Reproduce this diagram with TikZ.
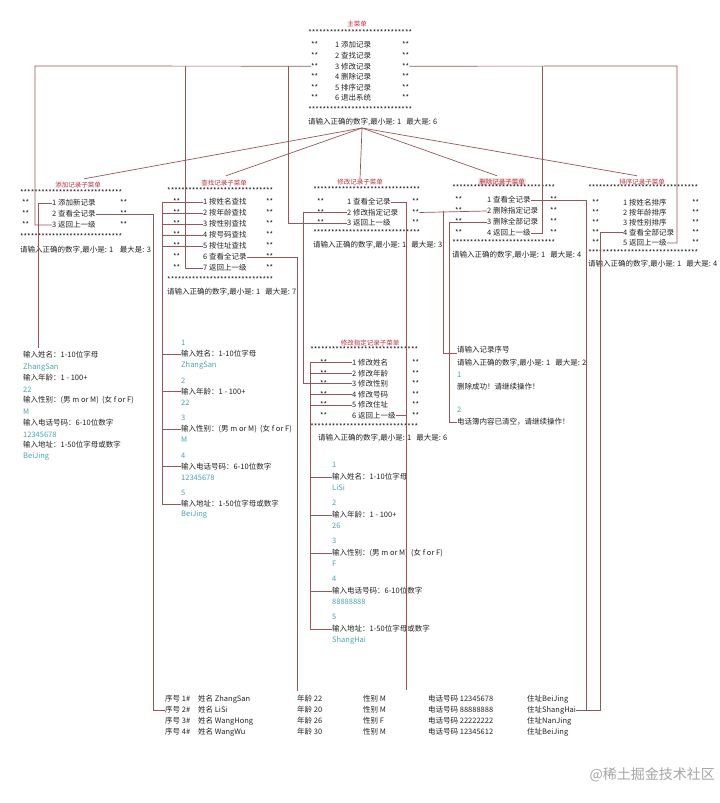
\documentclass[tikz,border=0pt]{standalone}
\usepackage{fontspec}
\setmainfont{Noto Sans CJK SC}
\usetikzlibrary{calc}
\definecolor{titlecolor}{RGB}{190,45,60}
\definecolor{valcolor}{RGB}{70,165,175}
\definecolor{wirecolor}{RGB}{155,85,90}
\definecolor{textcolor}{RGB}{35,35,35}
\newcommand{\starline}[1]{\hbox to #1pt{\xleaders\hbox{*}\hfill}}

\begin{document}
\begin{tikzpicture}[x=1pt,y=-1pt, every node/.style={font=\fontsize{7.5}{8}\selectfont}]
\tikzset{txt/.style={anchor=west,inner sep=0pt,text=textcolor},
  val/.style={txt,text=valcolor},
  ttl/.style={inner sep=0pt,text=titlecolor,font=\fontsize{6.5}{7}\selectfont},
  wire/.style={draw=wirecolor,line width=0.7pt}}
\useasboundingbox (0,0) rectangle (720,803);
\fill[white] (0,0) rectangle (720,803);

% main menu
\node[ttl] (mT) at (357,24) {主菜单};
\node[txt] (mS1) at (308,33) {\starline{104}};
\foreach \k/\lab in {1/添加记录,2/查找记录,3/修改记录,4/删除记录,5/排序记录,6/退出系统}{
  \node[txt] (mL\k) at (311,34.4+10.6*\k) {**};
  \node[txt] (m\k) at (335,34.4+10.6*\k) {\k~\lab};
  \node[txt] (mR\k) at (402,34.4+10.6*\k) {**};
}
\node[txt] (mS2) at (308,110) {\starline{104}};
\node[txt] (mP) at (308,122) {请输入正确的数字,最小是: 1~~~最大是: 6};

% add
\node[ttl] (aT) at (78,185) {添加记录子菜单};
\node[txt] (aS1) at (20,193) {\starline{102}};
\foreach \k/\lab in {1/添加新记录,2/查看全记录,3/返回上一级}{
  \node[txt] (aL\k) at (22,192+11*\k) {**};
  \node[txt] (a\k) at (52,192+11*\k) {\k~\lab};
  \node[txt] (aR\k) at (120,192+11*\k) {**};
}
\node[txt] (aS2) at (20,237) {\starline{102}};
\node[txt] (aP) at (20,250) {请输入正确的数字,最小是: 1~~~~最大是: 3};

% query
\node[ttl] (qT) at (224,183) {查找记录子菜单};
\node[txt] (qS1) at (167,191) {\starline{106}};
\foreach \k/\lab in {1/按姓名查找,2/按年龄查找,3/按性别查找,4/按号码查找,5/按住址查找,6/查看全记录,7/返回上一级}{
  \node[txt] (qL\k) at (173,191+11*\k) {**};
  \node[txt] (q\k) at (203,191+11*\k) {\k~\lab};
  \node[txt] (qR\k) at (266,191+11*\k) {**};
}
\node[txt] (qS2) at (167,280) {\starline{106}};
\node[txt] (qP) at (167,292) {请输入正确的数字,最小是: 1~~~最大是: 7};

% modify
\node[ttl] (cT) at (360,182) {修改记录子菜单};
\node[txt] (cS1) at (313,190) {\starline{107}};
\foreach \k/\lab in {1/查看全记录,2/修改指定记录,3/返回上一级}{
  \node[txt] (cL\k) at (317,191.5+10.5*\k) {**};
  \node[txt] (c\k) at (347,191.5+10.5*\k) {\k~\lab};
  \node[txt] (cR\k) at (412,191.5+10.5*\k) {**};
}
\node[txt] (cS2) at (313,233) {\starline{107}};
\node[txt] (cP) at (313,245) {请输入正确的数字,最小是: 1~~~最大是: 3};

% delete
\node[ttl,fill=titlecolor!12,inner sep=1pt] (dT) at (502,182) {删除记录子菜单};
\node[txt] (dS1) at (452,188) {\starline{103}};
\foreach \k/\lab in {1/查看全记录,2/删除指定记录,3/删除全部记录,4/返回上一级}{
  \node[txt] (dL\k) at (455,189+11*\k) {**};
  \node[txt] (d\k) at (487,189+11*\k) {\k~\lab};
  \node[txt] (dR\k) at (550,189+11*\k) {**};
}
\node[txt] (dS2) at (452,243) {\starline{103}};
\node[txt] (dP) at (452,255) {请输入正确的数字,最小是: 1~~~最大是: 4};

% sort
\node[ttl] (sT) at (642,182) {排序记录子菜单};
\node[txt] (sS1) at (588,188) {\starline{110}};
\foreach \k/\lab in {1/按姓名排序,2/按年龄排序,3/按性别排序,4/查看全部记录,5/返回上一级}{
  \node[txt] (sL\k) at (592,192+10.2*\k) {**};
  \node[txt] (s\k) at (623,192+10.2*\k) {\k~\lab};
  \node[txt] (sR\k) at (692,192+10.2*\k) {**};
}
\node[txt] (sS2) at (588,253) {\starline{110}};
\node[txt] (sP) at (588,264) {请输入正确的数字,最小是: 1~~~最大是: 4};

% modify one record
\node[ttl] (eT) at (370,343) {修改指定记录子菜单};
\node[txt] (eS1) at (310,350) {\starline{108}};
\foreach \k/\lab in {1/修改姓名,2/修改年龄,3/修改性别,4/修改号码,5/修改住址,6/返回上一级}{
  \node[txt] (eL\k) at (320,352+10.6*\k) {**};
  \node[txt] (e\k) at (352,352+10.6*\k) {\k~\lab};
  \node[txt] (eR\k) at (412,352+10.6*\k) {**};
}
\node[txt] (eS2) at (310,427) {\starline{108}};
\node[txt] (eP) at (318,438) {请输入正确的数字,最小是: 1~~~最大是: 6};

% inputs
\foreach \k/\lab/\v in {1/{输入姓名：1-10位字母}/ZhangSan,2/{输入年龄：1 - 100+}/22,
  3/{输入性别：(男 m or M)~~(女 f or F)}/M,4/{输入电话号码：6-10位数字}/12345678,
  5/{输入地址：1-50位字母或数字}/BeiJing}{
  \node[txt] (ai\k) at (23,332.5+22.5*\k) {\lab};
  \node[val] (av\k) at (23,344.5+22.5*\k) {\v};
}
\foreach \k/\lab/\v in {1/{输入姓名：1-10位字母}/ZhangSan,2/{输入年龄：1 - 100+}/22,
  3/{输入性别：(男 m or M)~~(女 f or F)}/M,4/{输入电话号码：6-10位数字}/12345678,
  5/{输入地址：1-50位字母或数字}/BeiJing}{
  \node[val] (qn\k) at (181,305.5+37.5*\k) {\k};
  \node[txt] (qi\k) at (181,316.5+37.5*\k) {\lab};
  \node[val] (qv\k) at (181,327.5+37.5*\k) {\v};
}
\foreach \k/\lab/\v in {1/{输入姓名：1-10位字母}/LiSi,2/{输入年龄：1 - 100+}/26,
  3/{输入性别：(男 m or M)~~(女 f or F)}/F,4/{输入电话号码：6-10位数字}/88888888,
  5/{输入地址：1-50位字母或数字}/ShangHai}{
  \node[val] (en\k) at (332,427+38*\k) {\k};
  \node[txt] (ei\k) at (332,439+38*\k) {\lab};
  \node[val] (ev\k) at (332,450+38*\k) {\v};
}
\node[txt] (di1) at (457,350) {请输入记录序号};
\node[txt] (di2) at (457,363) {请输入正确的数字,最小是: 1~~~最大是: 2};
\node[val] (di3) at (457,375) {1};
\node[txt] (di4) at (457,387) {删除成功！请继续操作！};
\node[val] (di5) at (457,410) {2};
\node[txt] (di6) at (457,422) {电话簿内容已清空，请继续操作！};

% table
\foreach \nm/\ag/\sx/\tel/\ad [count=\i] in {ZhangSan/22/M/12345678/BeiJing,LiSi/20/M/88888888/ShangHai,
  WangHong/26/F/22222222/NanJing,WangWu/30/M/12345612/BeiJing}{
  \node[txt] (tid\i) at (165,688+11*\i) {序号 \i\#};
  \node[txt] (tnm\i) at (198,688+11*\i) {姓名 \nm};
  \node[txt] (tag\i) at (297,688+11*\i) {年龄 \ag};
  \node[txt] (tsx\i) at (363,688+11*\i) {性别 \sx};
  \node[txt] (ttel\i) at (428,688+11*\i) {电话号码 \tel};
  \node[txt] (tad\i) at (527,688+11*\i) {住址\ad};
}
\node[anchor=east,inner sep=0pt,text=black!35,font=\fontsize{14}{15}\selectfont] (wm) at (715,775) {@稀土掘金技术社区};

% connectors
\coordinate (fan) at (362,128);
\draw[wire] (fan) -- ($(aT.north)+(6,-3)$);
\draw[wire] (fan) -- ($(qT.north)+(2,-4)$);
\draw[wire] (fan) -- (cT.north);
\draw[wire] (fan) -- ($(dT.north)+(-5,-2)$);
\draw[wire] (fan) -- ($(sT.north)+(-5,-3)$);

\coordinate (jq) at (185,66);
\coordinate (jc) at (288,66);
\coordinate (jd) at (542,66);
\draw[wire] (mL3.west) -- (35,66) |- (a3.west);
\draw[wire] (mR3.east) -- (677,66) |- (s5.east);
\draw[wire] (jq) |- (q7.west);
\draw[wire] (jc) |- (c3.west);
\draw[wire] (jd) |- (d4.east);

\draw[wire] (a1.west) -| ($(ai1.north west)+(15,-3)$);
\draw[wire] (a2.east) -| ($(tid2.west)+(-12,0)$) -- (tid2.west);

\coordinate (qbus) at (162,0);
\foreach \k in {1,...,5}{
  \draw[wire] (q\k.west) -- (q\k.west -| qbus);
  \draw[wire] (qi\k.west -| qbus) -- (qi\k.west);
}
\draw[wire] (q1.west -| qbus) -- (qi5.west -| qbus);
\draw[wire] (q6.east) -| ($(tag1.north west)+(0,-4)$);

\coordinate (cEnd) at (406,690);
\coordinate (ebus) at (310,0);
\draw[wire] (c1.east) -| (cEnd);
\draw[wire] (c2.west) -| ($(e3.west -| ebus)+(-7,0)$) -- (e3.west -| ebus);
\foreach \k in {1,...,5}{
  \draw[wire] (e\k.west) -- (e\k.west -| ebus);
  \draw[wire] (ei\k.west -| ebus) -- (ei\k.west);
}
\draw[wire] (e1.west -| ebus) -- (ei5.west -| ebus);
\draw[wire] (e6.east) -- (e6.east -| cEnd);

\coordinate (dv) at (443,0);
\draw[wire] (cR2.east) -- (d2.west);
\draw[wire] (d2.west -| dv) |- (di1.south west);
\draw[wire] (d3.west) -| ($(di6.west)+(-8,0)$) -- (di6.west);
\draw[wire] (d1.east) -| ($(tad2.east)+(10,0)$);
\draw[wire] (s4.west) -| ($(tad2.east)+(24,0)$) -- (tad2.east);
\end{tikzpicture}
\end{document}
